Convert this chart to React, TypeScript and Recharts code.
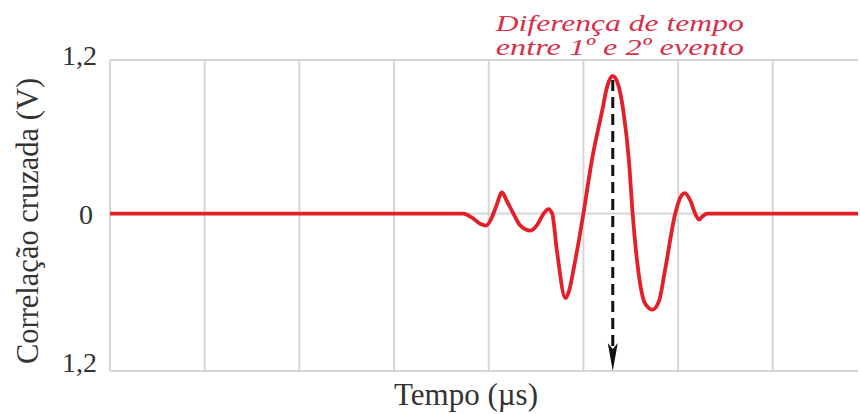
import { LineChart, Line, XAxis, YAxis, CartesianGrid, ReferenceLine } from "recharts";

// time in grid divisions, correlation in volts
const TIME = [
  0, 3.73, 3.82, 3.91, 3.97, 4.02, 4.08, 4.14, 4.19, 4.26, 4.33, 4.44, 4.51, 4.58,
  4.63, 4.67, 4.72, 4.81, 4.85, 4.9, 4.95, 5.0, 5.09, 5.2, 5.25, 5.31, 5.37, 5.42, 5.48,
  5.52, 5.58, 5.65, 5.73, 5.8, 5.86, 5.97, 6.02, 6.07, 6.13, 6.18, 6.22, 6.26, 6.31, 7.9,
];
const CORR = [
  0, 0, -0.03, -0.08, -0.094, -0.05, 0.06, 0.165, 0.1, 0, -0.09, -0.133, -0.09, 0,
  0.035, 0, -0.29, -0.66, -0.6, -0.42, -0.22, 0, 0.42, 0.81, 0.99, 1.075, 1.0, 0.81, 0.42,
  0, -0.45, -0.7, -0.75, -0.68, -0.45, 0, 0.12, 0.16, 0.1, 0, -0.047, -0.02, 0, 0,
];

const X_TICKS = [0, 1, 2, 3, 4, 5, 6, 7];
const X_MAX = 7.9;
const Y_TICKS = [1.2, 0, -1.23];
const PEAK_TIME = 5.31;
const PEAK_VALUE = 1.075;

const data = TIME.map((t, i) => ({ t, v: CORR[i] }));

const serif = "'Liberation Serif', 'Times New Roman', serif";
const axisInk = "#333";

// nudges for the three y labels (top, zero, bottom)
const yLabelDy = [5, 10, 1];
const yLabelDx = [0, -4, 0];

function YTick(props: any) {
  const { x, y, payload, index } = props;
  const v = payload.value as number;
  const text = v === 0 ? "0" : Math.abs(v).toFixed(1).replace(".", ",");
  return (
    <text
      x={x + yLabelDx[index]}
      y={y + yLabelDy[index]}
      textAnchor="end"
      fontFamily={serif}
      fontSize={28}
      fill={axisInk}
    >
      {text}
    </text>
  );
}

function NoTick() {
  return <g />;
}

function ArrowWithNote(props: any) {
  const { x1, y1, y2 } = props;
  const x = x1;
  const top = Math.min(y1, y2) + 4;
  const tip = Math.max(y1, y2);
  const headTop = tip - 28;
  const note = {
    textAnchor: "middle" as const,
    fontFamily: serif,
    fontStyle: "italic",
    fontSize: 24,
    fill: "#d83049",
    textLength: 248,
    lengthAdjust: "spacingAndGlyphs" as const,
  };
  return (
    <g>
      <line x1={x} y1={top} x2={x} y2={headTop + 6} stroke="#111" strokeWidth={3} strokeDasharray="11 6" />
      <polygon
        points={`${x - 5},${headTop} ${x},${headTop + 6} ${x + 5},${headTop} ${x},${tip}`}
        fill="#111"
      />
      <text x={x + 7} y={31} {...note}>
        Diferença de tempo
      </text>
      <text x={x + 7} y={55} {...note}>
        entre 1º e 2º evento
      </text>
    </g>
  );
}

// vertical grid only at the whole divisions, no closing line on the right
const gridX = ({ offset }: any) => X_TICKS.map((t) => offset.left + (t / X_MAX) * offset.width);

export default function App() {
  return (
    <div style={{ position: "absolute", left: 0, top: 0, width: 860, height: 414, background: "#fff" }}>
      <LineChart width={860} height={414} data={data} margin={{ top: 60, right: 2, bottom: 0, left: 0 }}>
        <CartesianGrid
          stroke="#d6d6d6"
          strokeWidth={2}
          syncWithTicks
          verticalCoordinatesGenerator={gridX}
          horizontalValues={Y_TICKS}
        />
        <XAxis
          dataKey="t"
          type="number"
          domain={[0, X_MAX]}
          ticks={X_TICKS}
          tick={<NoTick />}
          tickLine={false}
          axisLine={false}
          height={43}
        />
        <YAxis
          type="number"
          domain={[-1.23, 1.2]}
          ticks={Y_TICKS}
          tick={<YTick />}
          tickLine={false}
          axisLine={false}
          tickMargin={7}
          width={110}
        />
        <Line
          type="monotone"
          dataKey="v"
          stroke="#e1202a"
          strokeWidth={3.8}
          dot={false}
          activeDot={false}
          isAnimationActive={false}
        />
        <ReferenceLine
          segment={[
            { x: PEAK_TIME, y: PEAK_VALUE },
            { x: PEAK_TIME, y: -1.23 },
          ]}
          shape={<ArrowWithNote />}
        />
        <text x={466} y={405} textAnchor="middle" fontFamily={serif} fontSize={31} fill={axisInk}>
          Tempo (µs)
        </text>
        <text
          x={38}
          y={221}
          textAnchor="middle"
          transform="rotate(-90, 38, 221)"
          fontFamily={serif}
          fontSize={30.5}
          fill={axisInk}
        >
          Correlação cruzada (V)
        </text>
      </LineChart>
    </div>
  );
}
